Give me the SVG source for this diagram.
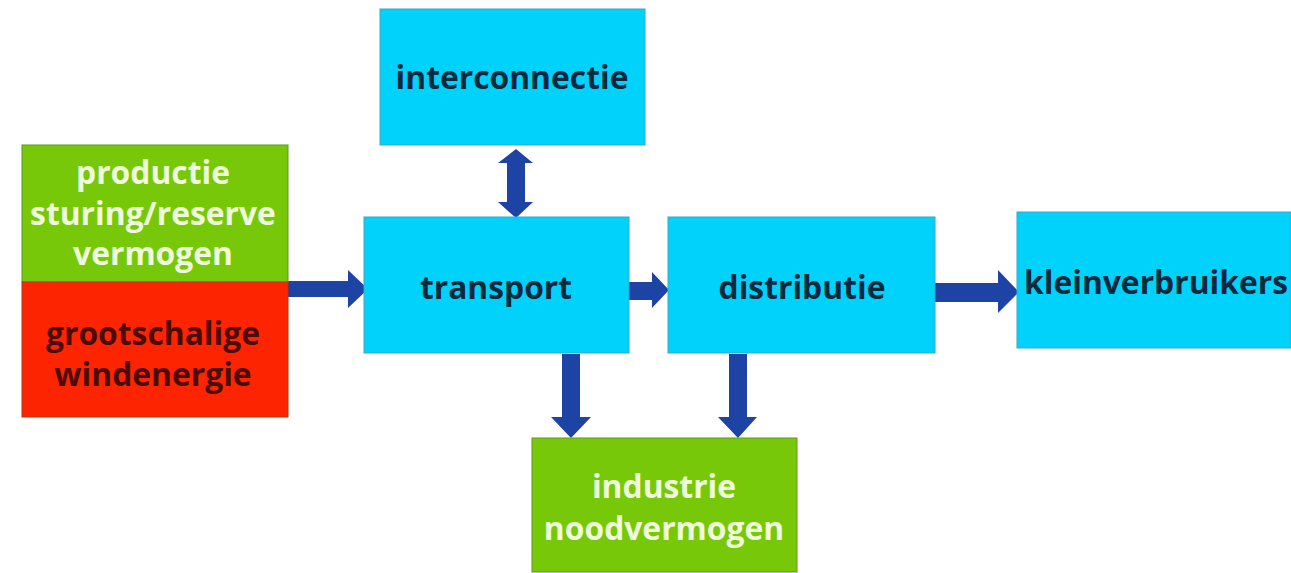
<svg xmlns="http://www.w3.org/2000/svg" width="1291" height="573" viewBox="0 0 1291 573">
<style>
.cyan{fill:#00d2fb;stroke:#3aa6c8;stroke-width:1}
.green{fill:#78c80a;stroke:#5c9a18;stroke-width:1}
.red{fill:#fd2402;stroke:#c0300a;stroke-width:1}
text{font-family:"Open Sans","Noto Sans",sans-serif;font-weight:bold;font-size:31.8px;text-anchor:middle}
.dk{fill:#0b2a3e}
.lt{fill:#eefbdc}
.mr{fill:#4a0c08}
.arr{fill:#1d44a4}
</style>
<rect width="1291" height="573" fill="#ffffff"/>
<g id="connectors">
<polygon class="arr" points="288,281 348,281 348,270 368,289 348,308 348,297 288,297"/>
<polygon class="arr" points="516,149 533,163 525,163 525,202 533,202 516,218 498,202 507,202 507,163 498,163"/>
<polygon class="arr" points="629,282 652,282 652,272 669,290 652,308 652,300 629,300"/>
<polygon class="arr" points="935,283 998,283 998,270 1019,292 998,313 998,302 935,302"/>
<polygon class="arr" points="562,354 580,354 580,417 591,417 571,438 551,417 562,417"/>
<polygon class="arr" points="729,354 747,354 747,417 757,417 738,438 718,417 729,417"/>
</g>
<g id="productie">
<rect class="green" x="22" y="145" width="266" height="137"/>
<text class="lt" x="153" y="184">productie</text>
<text class="lt" x="153" y="225">sturing/reserve</text>
<text class="lt" x="153" y="265">vermogen</text>
</g>
<g id="windenergie">
<rect class="red" x="22" y="282" width="266" height="135"/>
<text class="mr" x="153" y="345">grootschalige</text>
<text class="mr" x="153" y="386">windenergie</text>
</g>
<g id="interconnectie">
<rect class="cyan" x="380" y="9" width="265" height="136"/>
<text class="dk" x="512" y="89">interconnectie</text>
</g>
<g id="transport">
<rect class="cyan" x="364" y="217" width="265" height="136"/>
<text class="dk" x="496" y="299">transport</text>
</g>
<g id="distributie">
<rect class="cyan" x="668" y="217" width="267" height="136"/>
<text class="dk" x="802" y="299">distributie</text>
</g>
<g id="kleinverbruikers">
<rect class="cyan" x="1017" y="212" width="274" height="136"/>
<text class="dk" x="1156" y="294">kleinverbruikers</text>
</g>
<g id="industrie">
<rect class="green" x="532" y="438" width="265" height="134"/>
<text class="lt" x="664" y="498">industrie</text>
<text class="lt" x="664" y="540">noodvermogen</text>
</g>
</svg>
